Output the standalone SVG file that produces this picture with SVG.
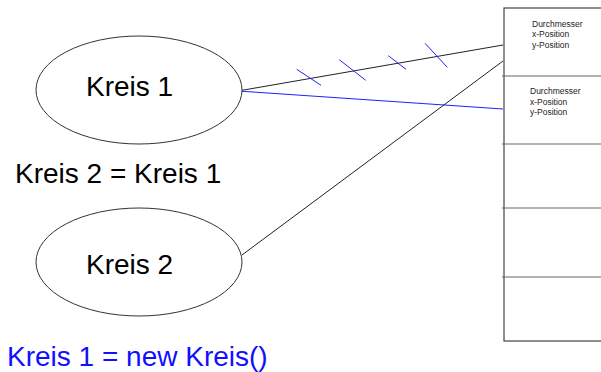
<svg xmlns="http://www.w3.org/2000/svg" width="601" height="372" viewBox="0 0 601 372">
<style>
.bg{fill:#ffffff}
.node ellipse{fill:#ffffff;stroke:#333333;stroke-width:1}
.big{font-family:"Liberation Sans",Arial,sans-serif;font-size:28px;fill:#000000}
.blue{fill:#1010ff}
.small{font-family:"Liberation Sans",Arial,sans-serif;font-size:8.5px;fill:#222222}
.mem{fill:#ffffff;stroke:#444444;stroke-width:1.2}
.div{stroke:#666666;stroke-width:1.2}
.ref{stroke:#222222;stroke-width:1;fill:none}
.bref{stroke:#2020ff;stroke-width:1;fill:none}
</style>
<rect class="bg" x="0" y="0" width="601" height="372"/>
<g id="memory">
<rect class="mem" x="504" y="8" width="110" height="333"/>
<line class="div" x1="502" y1="76" x2="601" y2="76"/>
<line class="div" x1="502" y1="144" x2="601" y2="144"/>
<line class="div" x1="502" y1="208" x2="601" y2="208"/>
<line class="div" x1="502" y1="277" x2="601" y2="277"/>
<text class="small" x="532" y="26.5">Durchmesser</text>
<text class="small" x="532" y="37">x-Position</text>
<text class="small" x="532" y="47.5">y-Position</text>
<text class="small" x="530" y="94">Durchmesser</text>
<text class="small" x="530" y="104.5">x-Position</text>
<text class="small" x="530" y="115">y-Position</text>
</g>
<g id="connectors">
<line class="ref" x1="238" y1="91" x2="503" y2="45"/>
<line class="bref" x1="238" y1="91" x2="503" y2="109"/>
<line class="ref" x1="242" y1="255" x2="503" y2="61"/>
<line class="bref" x1="296.7" y1="69.3" x2="321" y2="85.3"/>
<line class="bref" x1="339.3" y1="59.7" x2="365.7" y2="80.3"/>
<line class="bref" x1="388.3" y1="55.7" x2="406" y2="69.3"/>
<line class="bref" x1="425" y1="43.3" x2="447.3" y2="67.3"/>
</g>
<g id="kreis1" class="node">
<ellipse cx="139" cy="90" rx="103" ry="54"/>
<text class="big" x="86" y="96">Kreis 1</text>
</g>
<g id="kreis2" class="node">
<ellipse cx="139" cy="262" rx="103" ry="54"/>
<text class="big" x="86" y="274">Kreis 2</text>
</g>
<text class="big" x="15" y="183">Kreis 2 = Kreis 1</text>
<text class="big blue" x="7" y="366">Kreis 1 = new Kreis()</text>
</svg>
